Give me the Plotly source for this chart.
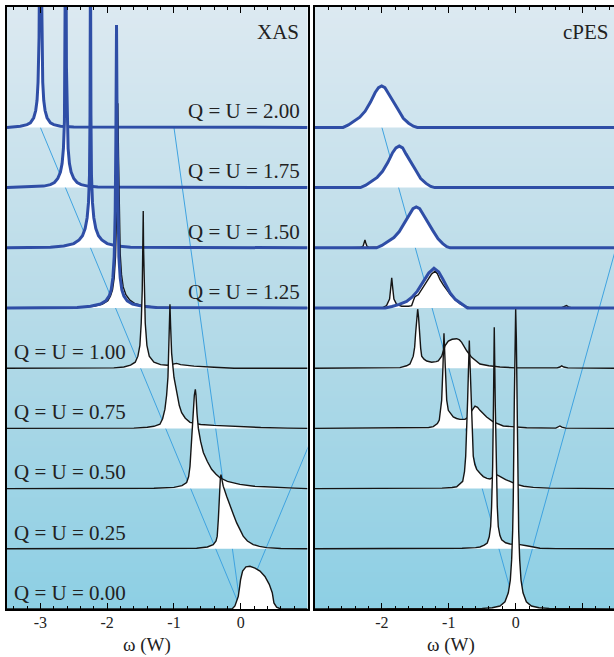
import plotly.graph_objects as go

# ---------------- data ----------------
ROW_LABELS = ["Q = U = 2.00", "Q = U = 1.75", "Q = U = 1.50", "Q = U = 1.25",
              "Q = U = 1.00", "Q = U = 0.75", "Q = U = 0.50", "Q = U = 0.25",
              "Q = U = 0.00"]
Q_VALUES = [2.00, 1.75, 1.50, 1.25, 1.00, 0.75, 0.50, 0.25, 0.00]
PANEL_TITLES = ["XAS", "cPES"]
AXIS_TITLE = "ω (W)"
LEFT_TICKS = [-3, -2, -1, 0]
LEFT_TICKTEXT = ["-3", "-2", "-1", "0"]
RIGHT_TICKS = [-2, -1, 0, 1]
RIGHT_TICKTEXT = ["-2", "-1", "0", ""]

# guide lines: omega at Q = 0 and Q = 2
GUIDE_Q = [0.0, 2.0]
XAS_GUIDE_A = [0.0, -3.0]
XAS_GUIDE_B = [0.0, -1.0]
XAS_GUIDE_C = [0.0, 3.0]
CPES_GUIDE_D = [0.0, -2.0]
CPES_GUIDE_E = [0.0, 2.0]

# ---- XAS spectra (omega, intensity in row units) ----
xas_200_w = [-3.5, -3.3, -3.2, -3.15, -3.1, -3.07, -3.05, -3.035, -3.02, -3.01, -3.0,
             -2.99, -2.98, -2.965, -2.95, -2.93, -2.9, -2.85, -2.8, -2.7, -2.5, 1.0]
xas_200_h = [0.0, 0.02, 0.045, 0.075, 0.16, 0.28, 0.45, 0.75, 1.5, 3.0, 5.0,
             3.0, 1.5, 0.75, 0.45, 0.28, 0.16, 0.075, 0.045, 0.02, 0.005, 0.0]

xas_175_w = [-3.5, -3.1, -2.95, -2.85, -2.79, -2.74, -2.7, -2.675, -2.655, -2.64, -2.63, -2.62,
             -2.61, -2.6, -2.585, -2.565, -2.54, -2.5, -2.45, -2.39, -2.29, -2.14, 1.0]
xas_175_h = [0.0, 0.01, 0.025, 0.05, 0.085, 0.15, 0.26, 0.4, 0.65, 1.1, 2.0, 5.0,
             2.0, 1.1, 0.65, 0.4, 0.26, 0.15, 0.085, 0.05, 0.025, 0.01, 0.0]

xas_150_w = [-3.5, -2.85, -2.65, -2.5, -2.42, -2.37, -2.33, -2.3, -2.28, -2.265, -2.257, -2.25,
             -2.243, -2.235, -2.22, -2.2, -2.17, -2.13, -2.08, -2.0, -1.85, -1.65, 1.0]
xas_150_h = [0.0, 0.01, 0.03, 0.07, 0.13, 0.2, 0.32, 0.5, 0.75, 1.2, 2.2, 5.0,
             2.2, 1.2, 0.75, 0.5, 0.32, 0.2, 0.13, 0.07, 0.03, 0.01, 0.0]

xas_125b_w = [-3.5, -2.45, -2.25, -2.1, -2.02, -1.97, -1.94, -1.915, -1.895, -1.88, -1.87, -1.86,
              -1.85, -1.84, -1.825, -1.805, -1.78, -1.75, -1.7, -1.62, -1.47, -1.27, 1.0]
xas_125b_h = [0.0, 0.01, 0.03, 0.065, 0.12, 0.2, 0.3, 0.5, 0.85, 1.6, 2.8, 4.7,
              2.8, 1.6, 0.85, 0.5, 0.3, 0.2, 0.12, 0.065, 0.03, 0.01, 0.0]

xas_125k_w = [-3.5, -2.4, -2.2, -2.07, -1.99, -1.95, -1.92, -1.895, -1.875, -1.86, -1.85, -1.84,
              -1.83, -1.82, -1.805, -1.785, -1.76, -1.72, -1.66, -1.58, -1.45, -1.25, -1.0, 1.0]
xas_125k_h = [0.0, 0.01, 0.03, 0.065, 0.12, 0.2, 0.3, 0.5, 0.85, 1.5, 2.5, 3.4,
              2.5, 1.6, 0.9, 0.55, 0.35, 0.22, 0.13, 0.07, 0.035, 0.015, 0.005, 0.0]

xas_100_w = [-3.5, -1.9, -1.75, -1.65, -1.58, -1.54, -1.51, -1.49, -1.475, -1.465, -1.46,
             -1.455, -1.445, -1.43, -1.405, -1.37, -1.3, -1.2, -1.1, -1.0, -0.96, -0.9,
             -0.7, -0.4, -0.1, 1.0]
xas_100_h = [0.0, 0.005, 0.02, 0.05, 0.1, 0.2, 0.38, 0.75, 1.3, 2.0, 2.61,
             2.0, 1.3, 0.75, 0.38, 0.2, 0.1, 0.06, 0.05, 0.07, 0.08, 0.06,
             0.035, 0.015, 0.0, 0.0]

xas_075_w = [-3.5, -1.6, -1.4, -1.3, -1.21, -1.17, -1.135, -1.11, -1.09, -1.075, -1.065, -1.06,
             -1.05, -1.035, -1.0, -0.96, -0.92, -0.885, -0.83, -0.76, -0.6, -0.4, -0.1, 0.3, 0.7, 1.0]
xas_075_h = [0.0, 0.005, 0.02, 0.035, 0.07, 0.16, 0.32, 0.55, 0.85, 1.3, 1.8, 2.06,
             1.7, 1.25, 0.85, 0.6, 0.38, 0.26, 0.17, 0.1, 0.065, 0.05, 0.03, 0.015, 0.005, 0.0]

xas_050_w = [-3.5, -1.3, -1.0, -0.88, -0.81, -0.78, -0.76, -0.745, -0.73, -0.715, -0.695, -0.68,
             -0.67, -0.655, -0.635, -0.6, -0.56, -0.5, -0.436, -0.37, -0.311, -0.2, -0.012,
             0.2, 0.486, 0.8, 1.0]
xas_050_h = [0.0, 0.005, 0.02, 0.05, 0.1, 0.2, 0.37, 0.65, 1.0, 1.3, 1.55, 1.65,
             1.55, 1.25, 1.0, 0.78, 0.6, 0.45, 0.32, 0.24, 0.18, 0.12, 0.07,
             0.04, 0.02, 0.008, 0.0]

xas_025_w = [-3.5, -0.9, -0.66, -0.5, -0.412, -0.37, -0.352, -0.335, -0.322, -0.305, -0.296,
             -0.285, -0.262, -0.21, -0.162, -0.11, -0.061, -0.01, 0.037, 0.1, 0.187, 0.28,
             0.388, 0.6, 1.0]
xas_025_h = [0.0, 0.003, 0.01, 0.03, 0.07, 0.13, 0.21, 0.5, 0.93, 1.18, 1.23,
             1.17, 1.04, 0.87, 0.71, 0.57, 0.43, 0.31, 0.21, 0.13, 0.07, 0.04,
             0.02, 0.005, 0.0]

xas_000_w = [-3.5, -0.13, -0.087, -0.06, -0.037, -0.015, -0.002, 0.028, 0.078, 0.138, 0.213,
             0.288, 0.362, 0.427, 0.472, 0.497, 0.537, 0.6, 1.0]
xas_000_h = [0.0, 0.0, 0.05, 0.12, 0.21, 0.38, 0.49, 0.63, 0.7, 0.71, 0.68,
             0.63, 0.54, 0.41, 0.27, 0.1, 0.03, 0.0, 0.0]

# ---- cPES spectra ----
cpes_200_w = [-3.0, -2.58, -2.5, -2.42, -2.33, -2.25, -2.17, -2.1, -2.05, -2.003, -1.955,
              -1.9, -1.83, -1.76, -1.68, -1.6, -1.53, -1.47, 1.47]
cpes_200_h = [0.0, 0.0, 0.04, 0.1, 0.17, 0.27, 0.42, 0.58, 0.66, 0.69, 0.66,
              0.56, 0.42, 0.3, 0.15, 0.07, 0.02, 0.0, 0.0]

cpes_175_w = [-3.0, -2.32, -2.24, -2.16, -2.07, -1.99, -1.91, -1.84, -1.79, -1.74, -1.69,
              -1.64, -1.57, -1.5, -1.42, -1.34, -1.27, -1.21, 1.47]
cpes_175_h = [0.0, 0.0, 0.04, 0.1, 0.17, 0.27, 0.42, 0.58, 0.66, 0.69, 0.66,
              0.56, 0.42, 0.3, 0.15, 0.07, 0.02, 0.0, 0.0]

cpes_150b_w = [-3.0, -2.08, -2.0, -1.92, -1.82, -1.74, -1.66, -1.59, -1.535, -1.486, -1.435,
               -1.38, -1.31, -1.24, -1.16, -1.09, -1.03, -0.98, 1.47]
cpes_150b_h = [0.0, 0.0, 0.04, 0.1, 0.17, 0.27, 0.42, 0.57, 0.65, 0.68, 0.65,
               0.55, 0.41, 0.29, 0.15, 0.07, 0.02, 0.0, 0.0]

cpes_150k_w = [-2.45, -2.32, -2.28, -2.265, -2.253, -2.24, -2.225, -2.19, -2.1, -2.04, -2.0]
cpes_150k_h = [0.0, 0.005, 0.03, 0.08, 0.13, 0.08, 0.03, 0.005, 0.005, 0.015, 0.04]

cpes_125b_w = [-3.0, -1.95, -1.85, -1.74, -1.63, -1.55, -1.47, -1.39, -1.3, -1.221, -1.15,
               -1.09, -1.03, -0.98, -0.9, -0.83, -0.77, -0.72, 1.47]
cpes_125b_h = [0.0, 0.0, 0.025, 0.06, 0.11, 0.18, 0.28, 0.42, 0.58, 0.66, 0.6,
               0.48, 0.35, 0.25, 0.14, 0.08, 0.03, 0.0, 0.0]

cpes_125k_w = [-3.0, -2.0, -1.93, -1.885, -1.868, -1.853, -1.838, -1.82, -1.78, -1.704,
               -1.6, -1.555, -1.53, -1.505, -1.456, -1.4, -1.33, -1.26, -1.206, -1.17,
               -1.131, -1.08, -1.031, -0.97, -0.907, -0.83, -0.758, -0.68, 0.68, 0.73,
               0.76, 0.79, 0.84, 1.47]
cpes_125k_h = [0.0, 0.0, 0.04, 0.15, 0.33, 0.5, 0.33, 0.15, 0.06, 0.03,
               0.03, 0.04, 0.12, 0.19, 0.22, 0.31, 0.44, 0.56, 0.61, 0.57,
               0.47, 0.38, 0.3, 0.21, 0.14, 0.07, 0.03, 0.0, 0.0, 0.02,
               0.04, 0.02, 0.0, 0.0]

cpes_100_w = [-3.0, -1.9, -1.73, -1.63, -1.58, -1.531, -1.51, -1.495, -1.48, -1.465,
              -1.452, -1.441, -1.42, -1.405, -1.37, -1.33, -1.256, -1.19, -1.157, -1.106,
              -1.057, -1.007, -0.95, -0.882, -0.84, -0.807, -0.732, -0.658, -0.534, -0.4,
              -0.235, 0.0, 0.62, 0.66, 0.688, 0.72, 0.78, 1.47]
cpes_100_h = [0.0, 0.003, 0.01, 0.04, 0.07, 0.2, 0.35, 0.59, 0.85, 0.98,
              0.85, 0.59, 0.33, 0.2, 0.15, 0.12, 0.1, 0.11, 0.12, 0.2,
              0.37, 0.45, 0.48, 0.49, 0.47, 0.43, 0.29, 0.18, 0.07, 0.04,
              0.02, 0.005, 0.005, 0.02, 0.04, 0.02, 0.005, 0.0]

cpes_075_w = [-3.0, -1.6, -1.4, -1.3, -1.232, -1.17, -1.142, -1.12, -1.106, -1.087,
              -1.072, -1.052, -1.031, -1.007, -0.97, -0.933, -0.883, -0.833, -0.758, -0.72,
              -0.683, -0.645, -0.608, -0.57, -0.534, -0.434, -0.335, -0.185, 0.0, 0.164,
              0.6, 0.64, 0.662, 0.69, 0.75, 1.47]
cpes_075_h = [0.0, 0.003, 0.008, 0.015, 0.03, 0.08, 0.14, 0.3, 0.47, 1.02,
              1.58, 1.02, 0.47, 0.3, 0.24, 0.19, 0.165, 0.15, 0.15, 0.18,
              0.25, 0.32, 0.37, 0.35, 0.3, 0.19, 0.11, 0.04, 0.02, 0.01,
              0.005, 0.02, 0.04, 0.02, 0.005, 0.0]

cpes_050_w = [-3.0, -1.4, -1.1, -0.95, -0.882, -0.792, -0.765, -0.747, -0.73, -0.718,
              -0.705, -0.693, -0.68, -0.664, -0.65, -0.634, -0.61, -0.583, -0.53, -0.484,
              -0.43, -0.384, -0.33, -0.284, -0.25, -0.209, -0.15, -0.085, 0.015, 0.12,
              0.263, 0.5, 1.47]
cpes_050_h = [0.0, 0.003, 0.008, 0.018, 0.03, 0.12, 0.28, 0.54, 0.95, 1.48,
              2.0, 2.46, 2.0, 1.48, 0.95, 0.54, 0.4, 0.32, 0.25, 0.2,
              0.17, 0.16, 0.19, 0.23, 0.21, 0.18, 0.15, 0.12, 0.07, 0.04,
              0.02, 0.008, 0.0]

cpes_025_w = [-3.0, -1.2, -0.8, -0.6, -0.534, -0.47, -0.425, -0.395, -0.374, -0.36,
              -0.344, -0.332, -0.32, -0.305, -0.29, -0.275, -0.26, -0.235, -0.209, -0.15,
              -0.085, 0.0, 0.064, 0.164, 0.25, 0.363, 0.6, 1.47]
cpes_025_h = [0.0, 0.003, 0.01, 0.02, 0.03, 0.06, 0.095, 0.2, 0.37, 0.7,
              1.37, 2.4, 3.68, 2.4, 1.37, 0.7, 0.37, 0.22, 0.15, 0.1,
              0.08, 0.075, 0.07, 0.05, 0.03, 0.01, 0.003, 0.0]

cpes_000_w = [-3.0, -1.0, -0.5, -0.35, -0.235, -0.16, -0.11, -0.08, -0.06, -0.045, -0.036,
              -0.02, -0.01, 0.0, 0.01, 0.02, 0.034, 0.045, 0.06, 0.08, 0.11, 0.16, 0.235,
              0.35, 0.5, 1.0, 1.47]
cpes_000_h = [0.0, 0.003, 0.01, 0.02, 0.05, 0.12, 0.27, 0.48, 0.82, 1.3, 1.82,
              3.48, 4.5, 4.98, 4.5, 3.48, 1.82, 1.3, 0.82, 0.48, 0.27, 0.12, 0.05,
              0.02, 0.01, 0.003, 0.0]

# ---------------- styling ----------------
BLUE = "#2f4ea6"
BLACK = "#151515"
GUIDE = "#3fa3e0"
FONT = "Liberation Serif, Times New Roman, serif"
BG_SCALE = [[0.0, "#8dcfe4"], [0.5, "#b7dbe8"], [1.0, "#dce9f1"]]
LEFT_RANGE = [-3.5, 1.0]
RIGHT_RANGE = [-3.0, 1.47]
Y_RANGE = [0, 10]

XAS_ROWS = [
    [("blue", xas_200_w, xas_200_h)],
    [("blue", xas_175_w, xas_175_h)],
    [("blue", xas_150_w, xas_150_h)],
    [("blue", xas_125b_w, xas_125b_h), ("black", xas_125k_w, xas_125k_h)],
    [("black", xas_100_w, xas_100_h)],
    [("black", xas_075_w, xas_075_h)],
    [("black", xas_050_w, xas_050_h)],
    [("black", xas_025_w, xas_025_h)],
    [("black", xas_000_w, xas_000_h)],
]
CPES_ROWS = [
    [("blue", cpes_200_w, cpes_200_h)],
    [("blue", cpes_175_w, cpes_175_h)],
    [("blue", cpes_150b_w, cpes_150b_h), ("black", cpes_150k_w, cpes_150k_h)],
    [("blue", cpes_125b_w, cpes_125b_h), ("black", cpes_125k_w, cpes_125k_h)],
    [("black", cpes_100_w, cpes_100_h)],
    [("black", cpes_075_w, cpes_075_h)],
    [("black", cpes_050_w, cpes_050_h)],
    [("black", cpes_025_w, cpes_025_h)],
    [("black", cpes_000_w, cpes_000_h)],
]

fig = go.Figure()

# backgrounds (vertical gradient)
for xa, ya, rng in (("x", "y", LEFT_RANGE), ("x2", "y2", RIGHT_RANGE)):
    fig.add_trace(go.Heatmap(x=rng, y=Y_RANGE, z=[[0, 0], [1, 1]], zsmooth="best",
                             colorscale=BG_SCALE, showscale=False, hoverinfo="skip",
                             xaxis=xa, yaxis=ya))

# guide lines (row offset = 4 * Q)
def add_guide(wvals, xa, ya):
    fig.add_trace(go.Scatter(x=wvals, y=[4 * q for q in GUIDE_Q], mode="lines",
                             line=dict(color=GUIDE, width=1), hoverinfo="skip",
                             showlegend=False, xaxis=xa, yaxis=ya))

add_guide(XAS_GUIDE_A, "x", "y")
add_guide(XAS_GUIDE_B, "x", "y")
add_guide(XAS_GUIDE_C, "x", "y")
add_guide(CPES_GUIDE_D, "x2", "y2")
add_guide(CPES_GUIDE_E, "x2", "y2")


def add_curve(w, h, off, color, width, xa, ya, fill=True, line=True):
    fig.add_trace(go.Scatter(
        x=w, y=[v + off for v in h], mode="lines",
        line=dict(color=color if line else "rgba(0,0,0,0)", width=width if line else 0),
        fill="toself" if fill else "none", fillcolor="white",
        hoverinfo="skip", showlegend=False, xaxis=xa, yaxis=ya))


def draw_rows(rows, xa, ya):
    n = len(rows)
    for i, row in enumerate(rows):
        off = (n - 1) - i
        blues = [c for c in row if c[0] == "blue"]
        blacks = [c for c in row if c[0] == "black"]
        for _, w, h in blues:
            add_curve(w, h, off, BLUE, 0, xa, ya, fill=True, line=False)
        for _, w, h in blacks:
            add_curve(w, h, off, BLACK, 1.4, xa, ya, fill=True, line=True)
        for _, w, h in blues:
            add_curve(w, h, off, BLUE, 3, xa, ya, fill=False, line=True)


draw_rows(XAS_ROWS, "x", "y")
draw_rows(CPES_ROWS, "x2", "y2")

# annotations
ann = []
n = len(ROW_LABELS)
for i, (lab, q) in enumerate(zip(ROW_LABELS, Q_VALUES)):
    off = (n - 1) - i
    if q >= 1.25:
        ann.append(dict(x=0.92, y=off + 0.27, xref="x", yref="y", text=lab, showarrow=False,
                        xanchor="right", yanchor="middle", font=dict(family=FONT, size=21, color="#222")))
    else:
        ann.append(dict(x=-3.42, y=off + 0.27, xref="x", yref="y", text=lab, showarrow=False,
                        xanchor="left", yanchor="middle", font=dict(family=FONT, size=21, color="#222")))
ann.append(dict(x=0.9, y=9.58, xref="x", yref="y", text=PANEL_TITLES[0], showarrow=False,
                xanchor="right", yanchor="middle", font=dict(family=FONT, size=21, color="#222")))
ann.append(dict(x=1.43, y=9.58, xref="x2", yref="y2", text=PANEL_TITLES[1], showarrow=False,
                xanchor="right", yanchor="middle", font=dict(family=FONT, size=21, color="#222")))
ann.append(dict(x=-1.41, y=-0.0795, xref="x", yref="paper", text=AXIS_TITLE, showarrow=False,
                xanchor="center", yanchor="bottom", borderpad=0,
                font=dict(family=FONT, size=19, color="#222")))
ann.append(dict(x=-0.97, y=-0.0795, xref="x2", yref="paper", text=AXIS_TITLE, showarrow=False,
                xanchor="center", yanchor="bottom", borderpad=0,
                font=dict(family=FONT, size=19, color="#222")))

xcommon = dict(ticks="inside", ticklen=6, tickwidth=1, tickcolor="black",
               minor=dict(dtick=0.2, tick0=0, ticks="inside", ticklen=3.5, tickcolor="black", tickwidth=1),
               showline=True, linecolor="black", linewidth=1.5, mirror="ticks",
               showgrid=False, zeroline=False, tickmode="array",
               tickfont=dict(family=FONT, size=16, color="#222"), ticklabelstandoff=-2)
ycommon = dict(range=Y_RANGE, showticklabels=False, ticks="", showline=True, linecolor="black",
               linewidth=1.5, showgrid=False, zeroline=False)

fig.update_layout(
    width=614, height=657,
    margin=dict(l=7, r=0, t=7, b=48),
    paper_bgcolor="white", plot_bgcolor="white",
    showlegend=False,
    xaxis=dict(domain=[0, 0.4951], range=LEFT_RANGE, tickvals=LEFT_TICKS, ticktext=LEFT_TICKTEXT, **xcommon),
    xaxis2=dict(domain=[0.5074, 1.0], range=RIGHT_RANGE, tickvals=RIGHT_TICKS, ticktext=RIGHT_TICKTEXT,
                anchor="y2", **xcommon),
    yaxis=dict(domain=[0, 1], anchor="x", mirror=True, **ycommon),
    yaxis2=dict(domain=[0, 1], anchor="x2", mirror=False, **ycommon),
    annotations=ann,
)

fig.write_html("out.html", config={"displayModeBar": False},
               post_script="document.body.style.margin='0';document.body.style.overflow='hidden';")
